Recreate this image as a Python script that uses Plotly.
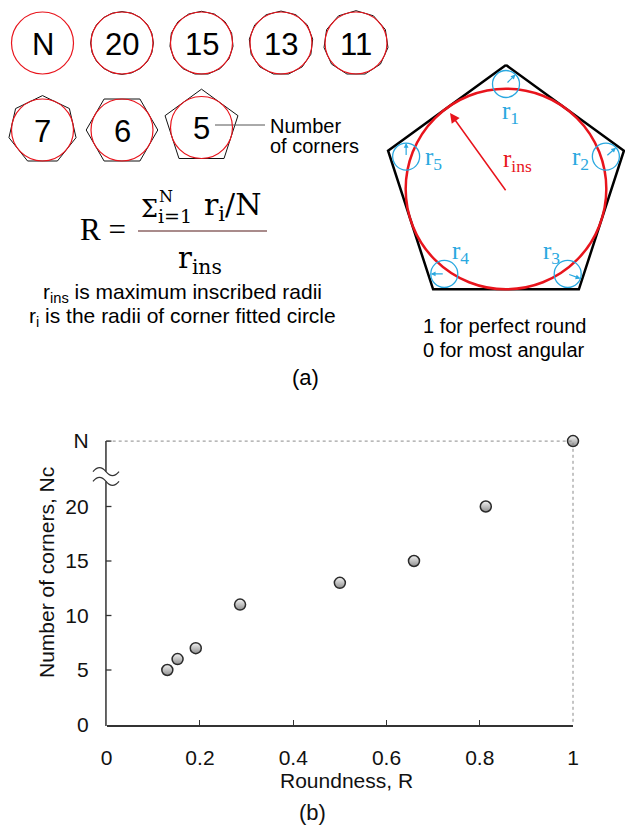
import math
import plotly.graph_objects as go

W, H = 625, 833
SANS = "Liberation Sans, Arial, sans-serif"
SERIF = "Liberation Serif, Times New Roman, serif"
MATH = "DejaVu Serif, serif"
RED = "#e8141c"
BLUE = "#29a8e0"

# ---------------- panel (b): roundness vs. number of corners ----------------
roundness = [0.130, 0.152, 0.191, 0.286, 0.500, 0.659, 0.813, 1.0]
corners = [5, 6, 7, 11, 13, 15, 20, 26]      # 26 is the position of the "N" level
N_LEVEL = 26
x_tickvals = [0, 0.2, 0.4, 0.6, 0.8, 1]
x_ticktext = ["0", "0.2", "0.4", "0.6", "0.8", "1"]
y_tickvals = [0, 5, 10, 15, 20, 26]
y_ticktext = ["0", "5", "10", "15", "20", "N"]
BREAK_LOW, BREAK_HIGH = 22.3, 23.2

# ---------------- panel (a): shape legend ----------------
row1_labels = ["N", "20", "15", "13", "11"]
row1_corners = [None, 20, 15, 13, 11]
row2_labels = ["7", "6", "5"]
row2_corners = [7, 6, 5]
corner_names = ["1", "2", "3", "4", "5"]

fig = go.Figure()

# pixel-space canvas for the schematic (1 unit = 1 px)
fig.update_layout(
    xaxis2=dict(domain=[0, 1], range=[0, W], visible=False, anchor="y2", fixedrange=True,
                automargin=False),
    yaxis2=dict(domain=[0, 1], range=[H, 0], visible=False, anchor="x2", fixedrange=True,
                automargin=False),
)

shapes = []
annotations = []


def poly_xy(cx, cy, r_in, n, rot=0.0):
    R = r_in / math.cos(math.pi / n)
    xs, ys = [], []
    for k in range(n + 1):
        a = rot + 2 * math.pi * k / n
        xs.append(cx + R * math.sin(a))
        ys.append(cy - R * math.cos(a))
    return xs, ys


def canvas_line(xs, ys, color, width, dash=None):
    fig.add_trace(go.Scatter(x=xs, y=ys, xaxis="x2", yaxis="y2", mode="lines",
                             line=dict(color=color, width=width, dash=dash),
                             hoverinfo="skip", showlegend=False))


def circle(cx, cy, r, color, width):
    shapes.append(dict(type="circle", xref="x2", yref="y2", x0=cx - r, x1=cx + r,
                       y0=cy - r, y1=cy + r, line=dict(color=color, width=width)))


def text(x, y, s, size, color="#000", family=SANS, xanchor="center", yanchor="middle", align="center"):
    annotations.append(dict(x=x, y=y, xref="x2", yref="y2", text=s, showarrow=False,
                            font=dict(size=size, color=color, family=family),
                            xanchor=xanchor, yanchor=yanchor, align=align))


# legend shapes: polygons with their inscribed circles
col_x = [42.5, 122, 201.5, 281, 356]
r_small = 31
for i, (lab, n) in enumerate(zip(row1_labels, row1_corners)):
    cx, cy = col_x[i], 43
    if n:
        xs, ys = poly_xy(cx, cy, r_small, n)
        canvas_line(xs, ys, "#111", 1)
    circle(cx, cy, r_small, RED, 1.2)
    text(cx, cy + 1, lab, 31)

row2_y = [130, 130, 127.5]
for i, (lab, n) in enumerate(zip(row2_labels, row2_corners)):
    cx, cy = col_x[i], row2_y[i]
    rot = math.pi / 6 if n == 6 else 0.0
    xs, ys = poly_xy(cx, cy, r_small, n, rot)
    canvas_line(xs, ys, "#111", 1)
    circle(cx, cy, r_small, RED, 1.2)
    text(cx, cy + 1, lab, 31)

# pointer to "Number of corners"
canvas_line([215, 265], [125, 125], "#555", 1)
text(268, 126, "Number", 20, xanchor="left")
text(268, 146, "of corners", 20, xanchor="left")

# roundness formula
text(103, 229, "R =", 31, family=SERIF)
text(139, 209, "Σ", 24, family=MATH, xanchor="left")
text(157, 196, "N", 16, family=MATH, xanchor="left")
text(156, 216, "i=1", 19, family=MATH, xanchor="left")
text(202, 206, "r<sub>i</sub>/N", 30, family=MATH, xanchor="left")
canvas_line([138, 267], [231, 231], "#8c6464", 1.5)
text(200, 260, "r<sub>ins</sub>", 29, family=MATH)

text(182, 293, "r<sub>ins</sub> is maximum inscribed radii", 21)
text(182, 317, "r<sub>i</sub> is the radii of corner fitted circle", 21)
text(305, 377, "(a)", 22)

# large pentagon with inscribed circle and corner circles
PC_X, PC_Y, PR = 506, 189, 124
p_in = PR * math.cos(math.pi / 5)
xs, ys = poly_xy(PC_X, PC_Y, p_in, 5)
canvas_line(xs, ys, "#000", 2.5)
circle(PC_X, PC_Y, p_in, RED, 2.5)

rho, d_corner = 13.5, 19
arrow_dirs = [(0.707, -0.707), (0.75, -0.66), (0.94, 0.34), (-1.0, 0.0), (0.0, -1.0)]
label_pos = [(510, 112), (580, 158), (551, 252), (460, 252), (433, 158)]
for k in range(5):
    vx, vy = xs[k], ys[k]
    ux, uy = (PC_X - vx) / PR, (PC_Y - vy) / PR
    cx, cy = vx + d_corner * ux, vy + d_corner * uy
    circle(cx, cy, rho, BLUE, 1.3)
    dx, dy = arrow_dirs[k]
    annotations.append(dict(x=cx + rho * dx, y=cy + rho * dy, ax=cx, ay=cy, xref="x2", yref="y2",
                            axref="x2", ayref="y2", text="", showarrow=True, arrowhead=2,
                            arrowsize=0.8, arrowwidth=1.2, arrowcolor=BLUE, standoff=0))
    text(label_pos[k][0], label_pos[k][1], "r<sub>%s</sub>" % corner_names[k], 25, color=BLUE, family=SERIF)

annotations.append(dict(x=450, y=113, ax=506.7, ay=191.7, xref="x2", yref="y2", axref="x2",
                        ayref="y2", text="", showarrow=True, arrowhead=2, arrowsize=1.3,
                        arrowwidth=1.5, arrowcolor=RED, standoff=0))
text(517, 160, "r<sub>ins</sub>", 25, color=RED, family=SERIF)

text(504, 326, "1 for perfect round", 20)
text(504, 350, "0 for most angular", 20)

# ---------------- panel (b) plot ----------------
x0_px, x1_px = 106.7, 573.0
y0_px, yN_px = 724.5, 441.1


def bx(v):
    return x0_px + v * (x1_px - x0_px)


def by(v):
    return y0_px - v * (y0_px - yN_px) / N_LEVEL


# reference lines to the "N" (perfect circle) point
canvas_line([bx(0), bx(1), bx(1)], [by(N_LEVEL), by(N_LEVEL), by(0)], "#8a8a8a", 1, dash="3px,3px")

# broken y-axis line with break marks and inward ticks
ax_x = bx(0) - 0.75
canvas_line([ax_x, ax_x, None, ax_x, ax_x],
            [by(0) + 1.5, by(BREAK_LOW), None, by(BREAK_HIGH), by(N_LEVEL)], "#333", 1.5)
tick_x, tick_y = [], []
for v in y_tickvals[1:]:
    tick_x += [ax_x, ax_x + 5.5, None]
    tick_y += [by(v), by(v), None]
canvas_line(tick_x, tick_y, "#333", 1.3)
for yb in (BREAK_LOW, BREAK_HIGH):
    cy = by(yb)
    path = "M%.1f,%.1f Q%.1f,%.1f %.1f,%.1f Q%.1f,%.1f %.1f,%.1f" % (
        ax_x - 13, cy, ax_x - 6.5, cy - 8, ax_x, cy, ax_x + 6.5, cy + 8, ax_x + 13, cy)
    shapes.append(dict(type="path", xref="x2", yref="y2", path=path,
                       line=dict(color="#333", width=1.3)))

fig.add_trace(go.Scatter(
    x=roundness, y=corners, mode="markers", cliponaxis=False, showlegend=False,
    marker=dict(size=11, color="#f4f4f4", gradient=dict(type="vertical", color="#8e8e8e"),
                line=dict(color="#2a2a2a", width=1.5)),
))

fig.update_layout(
    width=W, height=H, margin=dict(l=0, r=0, t=0, b=0, pad=0, autoexpand=False),
    paper_bgcolor="white", plot_bgcolor="rgba(0,0,0,0)",
    xaxis=dict(domain=[x0_px / W, x1_px / W], range=[0, 1], tickvals=x_tickvals, ticktext=x_ticktext,
               showline=True, linecolor="#333", linewidth=1.5, ticks="inside", ticklen=5,
               tickwidth=1.3, tickcolor="#333", showgrid=False, zeroline=False,
               tickfont=dict(size=21, color="#111", family=SANS), ticklabelstandoff=14,
               anchor="y", fixedrange=True, automargin=False),
    yaxis=dict(domain=[1 - y0_px / H, 1 - yN_px / H], range=[0, N_LEVEL], tickvals=y_tickvals,
               ticktext=y_ticktext, showline=False, ticks="", showgrid=False, zeroline=False,
               tickfont=dict(size=21, color="#111", family=SANS), ticklabelstandoff=17,
               anchor="x", fixedrange=True, automargin=False),
    shapes=shapes,
)

annotations.append(dict(x=346, y=780, xref="x2", yref="y2", text="Roundness, R", showarrow=False,
                        font=dict(size=21, color="#111", family=SANS)))
annotations.append(dict(x=46, y=573, xref="x2", yref="y2", text="Number of corners, Nc", showarrow=False,
                        textangle=-90, font=dict(size=21, color="#111", family=SANS)))
annotations.append(dict(x=312, y=812, xref="x2", yref="y2", text="(b)", showarrow=False,
                        font=dict(size=22, color="#111", family=SANS)))
fig.update_layout(annotations=annotations)

fig.write_html("out.html")
